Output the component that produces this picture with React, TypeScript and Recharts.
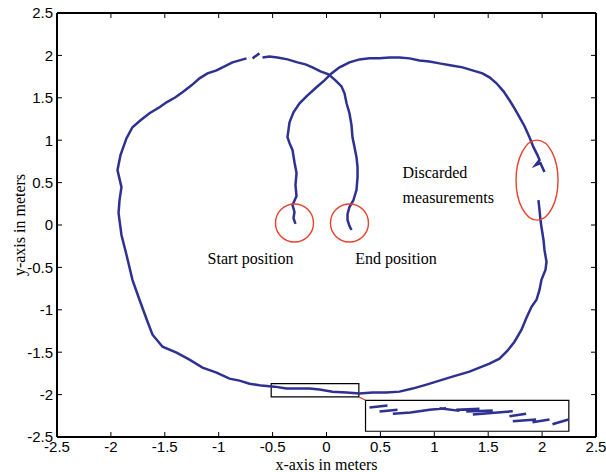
import React from 'react';
import { LineChart, Line, XAxis, YAxis, ReferenceArea, ReferenceDot, ReferenceLine, CartesianGrid } from 'recharts';

const TICKS = [-2.5, -2, -1.5, -1, -0.5, 0, 0.5, 1, 1.5, 2, 2.5];

// measured robot path, [x, y] in meters
const outwardLeg: [number, number][] = [
  [-0.288, 0.012], [-0.306, 0.082], [-0.297, 0.153], [-0.315, 0.235], [-0.278, 0.341],
  [-0.288, 0.471], [-0.278, 0.612], [-0.297, 0.741], [-0.315, 0.882], [-0.343, 0.965],
  [-0.362, 1.035], [-0.353, 1.118], [-0.343, 1.212], [-0.306, 1.329], [-0.25, 1.435],
  [-0.176, 1.529], [-0.093, 1.624], [-0.019, 1.706], [0.046, 1.788], [0.121, 1.859],
  [0.213, 1.918], [0.306, 1.953], [0.399, 1.965], [0.492, 1.965], [0.584, 1.976],
  [0.677, 1.976], [0.77, 1.965], [0.863, 1.941], [0.955, 1.929], [1.048, 1.906],
  [1.16, 1.882], [1.262, 1.859], [1.354, 1.824], [1.447, 1.788], [1.512, 1.741],
  [1.577, 1.671], [1.642, 1.576], [1.698, 1.471], [1.744, 1.376], [1.79, 1.271],
  [1.837, 1.165], [1.883, 1.035], [1.92, 0.918], [1.957, 0.824], [1.976, 0.765],
  [1.939, 0.706], [1.985, 0.729], [2.022, 0.624],
];

const loopBack: [number, number][] = [
  [1.966, 0.294], [1.976, 0.176], [1.985, 0.059], [1.994, -0.024], [2.013, -0.176],
  [2.022, -0.294], [2.041, -0.435], [2.031, -0.529], [1.994, -0.647], [1.976, -0.765],
  [1.948, -0.882], [1.902, -0.965], [1.855, -1.094], [1.809, -1.235], [1.744, -1.376],
  [1.679, -1.482], [1.605, -1.576], [1.512, -1.635], [1.419, -1.682], [1.326, -1.729],
  [1.169, -1.788], [1.048, -1.835], [0.928, -1.882], [0.798, -1.929], [0.677, -1.965],
  [0.557, -1.976], [0.427, -1.976], [0.306, -1.988], [0.186, -1.976], [0.056, -1.965],
  [-0.065, -1.941], [-0.158, -1.929], [-0.269, -1.929], [-0.371, -1.929], [-0.482, -1.906],
  [-0.603, -1.894], [-0.714, -1.871], [-0.807, -1.835], [-0.9, -1.812], [-1.02, -1.741],
  [-1.15, -1.682], [-1.271, -1.588], [-1.391, -1.506], [-1.521, -1.435], [-1.614, -1.294],
  [-1.66, -1.141], [-1.735, -0.882], [-1.8, -0.647], [-1.855, -0.353], [-1.902, -0.118],
  [-1.929, 0.141], [-1.92, 0.294], [-1.902, 0.447], [-1.939, 0.647], [-1.911, 0.824],
  [-1.855, 1.024], [-1.8, 1.153], [-1.725, 1.235], [-1.642, 1.318], [-1.549, 1.388],
  [-1.484, 1.447], [-1.401, 1.506], [-1.336, 1.565], [-1.252, 1.647], [-1.178, 1.729],
  [-1.104, 1.788], [-1.02, 1.824], [-0.946, 1.871], [-0.872, 1.918], [-0.807, 1.941],
  [-0.742, 1.965],
];

const topDash: [number, number][] = [[-0.686, 1.965], [-0.622, 2.024]];

const returnLeg: [number, number][] = [
  [-0.594, 1.976], [-0.529, 1.988], [-0.455, 1.976], [-0.362, 1.953], [-0.269, 1.918],
  [-0.195, 1.894], [-0.13, 1.859], [-0.056, 1.812], [0.019, 1.776], [0.083, 1.706],
  [0.139, 1.635], [0.167, 1.553], [0.186, 1.435], [0.213, 1.318], [0.232, 1.176],
  [0.241, 1.035], [0.26, 0.918], [0.278, 0.8], [0.288, 0.682], [0.288, 0.565],
  [0.278, 0.412], [0.25, 0.294], [0.213, 0.212], [0.195, 0.129], [0.195, 0.059],
  [0.213, -0.012], [0.232, -0.059],
];

// enlarged view of the boxed stretch near (0, -2)
const zoomDashes: [number, number][][] = [
  [[0.399, -2.153], [0.566, -2.129]],
  [[0.492, -2.2], [0.659, -2.18]],
  [[0.615, -2.227], [0.78, -2.21], [0.956, -2.18], [1.11, -2.16]],
  [[1.048, -2.16], [1.234, -2.192]],
  [[1.203, -2.178], [1.419, -2.167]],
  [[1.296, -2.2], [1.542, -2.188]],
  [[1.357, -2.235], [1.728, -2.196]],
  [[1.697, -2.255], [1.852, -2.227]],
  [[1.728, -2.314], [1.944, -2.294]],
  [[1.911, -2.325], [2.069, -2.294]],
  [[2.096, -2.35], [2.245, -2.294]],
];

const toRows = (parts: [number, number][][]) => {
  const rows: { x: number; y: number | null }[] = [];
  parts.forEach((p, i) => {
    if (i > 0) rows.push({ x: p[0][0], y: null });
    p.forEach(([x, y]) => rows.push({ x, y }));
  });
  return rows;
};

const pathRows = toRows([outwardLeg, loopBack, topDash, returnLeg]);
const zoomRows = toRows(zoomDashes);

const BLUE = '#2E3192';
const RED = '#E8412C';
const SERIF = "'Liberation Serif', 'Times New Roman', serif";
const SANS = "'Liberation Sans', Arial, sans-serif";

const note = (text: string, anchor: 'start' | 'middle') => (p: any) => (
  <text x={p.cx} y={p.cy} textAnchor={anchor} dominantBaseline="central" fontFamily={SERIF} fontSize={16} fill="#000">
    {text}
  </text>
);

export default function App() {
  return (
    <div style={{ position: 'absolute', left: 0, top: 0, width: 606, height: 472, background: '#fff', fontFamily: SANS }}>
      <LineChart width={606} height={472} margin={{ top: 12, right: 9, bottom: 0, left: 0 }}>
        <CartesianGrid
          stroke="#000"
          strokeWidth={2}
          horizontalCoordinatesGenerator={({ offset }: any) => [offset.top, offset.top + offset.height]}
          verticalCoordinatesGenerator={({ offset }: any) => [offset.left, offset.left + offset.width]}
        />
        <XAxis
          type="number"
          dataKey="x"
          domain={[-2.5, 2.5]}
          ticks={TICKS}
          allowDataOverflow
          height={35}
          tickSize={-5}
          tickMargin={9}
          fontSize={15}
          axisLine={{ stroke: '#000', strokeWidth: 2 }}
          tickLine={{ stroke: '#000' }}
          tick={{ fill: '#000' }}
        />
        <XAxis
          xAxisId="top"
          orientation="top"
          type="number"
          dataKey="x"
          domain={[-2.5, 2.5]}
          ticks={TICKS}
          allowDataOverflow
          height={1}
          tickFormatter={() => ''}
          tickSize={-5}
          axisLine={{ stroke: '#000', strokeWidth: 2 }}
          tickLine={{ stroke: '#000' }}
        />
        <YAxis
          type="number"
          domain={[-2.5, 2.5]}
          ticks={TICKS}
          allowDataOverflow
          width={57}
          tickSize={-5}
          tickMargin={9}
          fontSize={15}
          axisLine={{ stroke: '#000', strokeWidth: 2 }}
          tickLine={{ stroke: '#000' }}
          tick={{ fill: '#000' }}
        />
        <YAxis
          yAxisId="right"
          orientation="right"
          type="number"
          domain={[-2.5, 2.5]}
          ticks={TICKS}
          allowDataOverflow
          width={1}
          tickFormatter={() => ''}
          tickSize={-5}
          axisLine={{ stroke: '#000', strokeWidth: 2 }}
          tickLine={{ stroke: '#000' }}
        />

        <ReferenceArea x1={-0.513} x2={0.3} y1={-2.027} y2={-1.871} fill="none" stroke="#000" strokeWidth={1.2} />
        <ReferenceArea x1={0.362} x2={2.248} y1={-2.432} y2={-2.067} fill="none" stroke="#000" strokeWidth={1.2} />
        <ReferenceLine segment={[{ x: 0.3, y: -2.027 }, { x: 0.362, y: -2.067 }]} stroke={RED} strokeWidth={1.2} />

        <Line data={pathRows} dataKey="y" stroke={BLUE} strokeWidth={2.5} dot={false} isAnimationActive={false} connectNulls={false} />
        <Line data={zoomRows} dataKey="y" stroke={BLUE} strokeWidth={2.5} dot={false} isAnimationActive={false} connectNulls={false} />

        <ReferenceDot x={-0.297} y={0.024} r={19} fill="none" stroke={RED} strokeWidth={1.4} />
        <ReferenceDot x={0.213} y={0.024} r={19} fill="none" stroke={RED} strokeWidth={1.4} />
        <ReferenceDot
          x={1.953}
          y={0.529}
          r={1}
          shape={(p: any) => <ellipse cx={p.cx} cy={p.cy} rx={21} ry={40} fill="none" stroke={RED} strokeWidth={1.4} />}
        />

        <ReferenceDot x={-0.705} y={-0.4} r={1} shape={note('Start position', 'middle')} />
        <ReferenceDot x={0.645} y={-0.4} r={1} shape={note('End position', 'middle')} />
        <ReferenceDot x={0.705} y={0.624} r={1} shape={note('Discarded', 'start')} />
        <ReferenceDot x={0.705} y={0.329} r={1} shape={note('measurements', 'start')} />
        <ReferenceDot x={0} y={-2.83} r={1} ifOverflow="visible" shape={note('x-axis in meters', 'middle')} />
        <ReferenceDot
          x={-2.5}
          y={0}
          r={1}
          ifOverflow="visible"
          shape={(p: any) => (
            <text x={p.cx - 38} y={p.cy} transform={`rotate(-90 ${p.cx - 38} ${p.cy})`} textAnchor="middle" dominantBaseline="central" fontFamily={SERIF} fontSize={16} fill="#000">
              y-axis in meters
            </text>
          )}
        />
      </LineChart>
    </div>
  );
}
